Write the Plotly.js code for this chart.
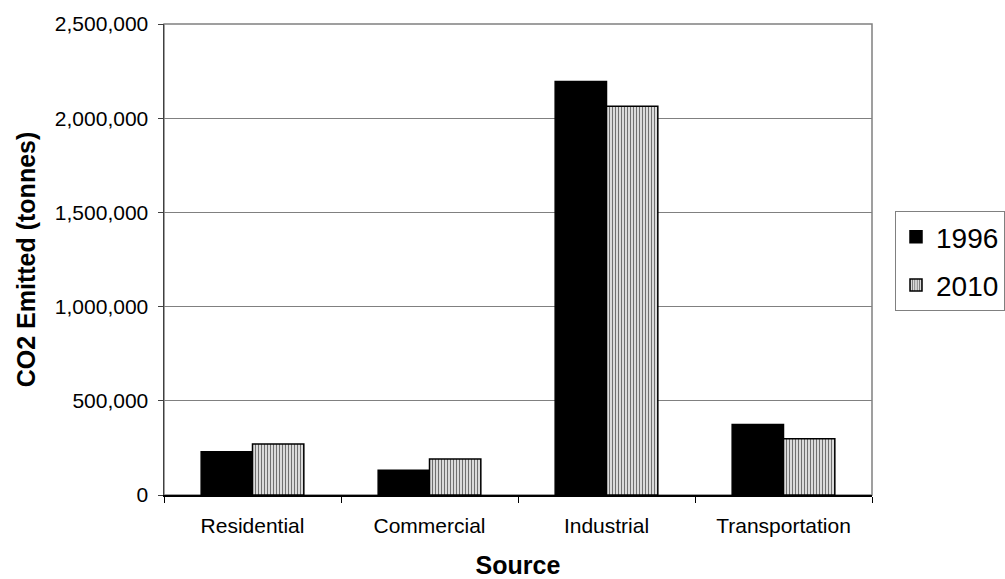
<!DOCTYPE html>
<html>
<head>
<meta charset="utf-8">
<script src="https://cdn.plot.ly/plotly-3.0.1.min.js"></script>
<style>
  html, body { margin: 0; padding: 0; background: #fff; }
  #chart { width: 1005px; height: 579px; }
</style>
</head>
<body>
<div id="chart"></div>
<script>
// CO2 emissions by source sector, 1996 vs 2010 (tonnes)
const sources = ['Residential', 'Commercial', 'Industrial', 'Transportation'];
const emissions1996 = [229000, 131000, 2195000, 374000];
const emissions2010 = [271000, 191000, 2064000, 298000];
const yTickValues = [0, 500000, 1000000, 1500000, 2000000, 2500000];

const font = 'Arial, "Liberation Sans", sans-serif';

const traces = [
  {
    type: 'bar',
    name: '1996',
    x: sources,
    y: emissions1996,
    legendgroup: 'a',
    marker: { color: '#000000', line: { color: '#000000', width: 1.5 } },
    hoverinfo: 'x+y'
  },
  {
    type: 'bar',
    name: '2010',
    x: sources,
    y: emissions2010,
    legendgroup: 'b',
    marker: {
      color: '#ffffff',
      line: { color: '#000000', width: 1.5 },
      pattern: { shape: '|', size: 3, solidity: 0.5, fgcolor: '#707070', bgcolor: '#ffffff' }
    },
    hoverinfo: 'x+y'
  }
];

const W = 1005, H = 579;
const plotL = 164, plotR = 872, plotT = 24, plotB = 495;

const layout = {
  width: W,
  height: H,
  paper_bgcolor: '#ffffff',
  plot_bgcolor: '#ffffff',
  margin: { l: plotL, r: W - plotR, t: plotT, b: H - plotB, pad: 0, autoexpand: false },
  font: { family: font, color: '#000000', size: 21 },
  barmode: 'group',
  bargap: 0.42,
  bargroupgap: 0,
  showlegend: true,
  legend: {
    x: (895 - plotL) / (plotR - plotL),
    xanchor: 'left',
    y: (plotB - 211) / (plotB - plotT),
    yanchor: 'top',
    bordercolor: '#808080',
    borderwidth: 1,
    bgcolor: '#ffffff',
    font: { family: font, size: 28, color: '#000000' },
    traceorder: 'grouped',
    tracegroupgap: 9
  },
  xaxis: {
    type: 'category',
    automargin: false,
    showline: true,
    linecolor: '#000000',
    linewidth: 1.5,
    ticks: 'outside',
    tickson: 'boundaries',
    ticklen: 6,
    tickcolor: '#000000',
    ticklabelstandoff: 11,
    tickfont: { family: font, size: 21, color: '#000000' },
    showgrid: false,
    zeroline: false,
    title: { text: '<b>Source</b>', font: { family: font, size: 25, color: '#000000' }, standoff: 31 }
  },
  yaxis: {
    automargin: false,
    range: [0, 2500000],
    tickvals: yTickValues,
    tickformat: ',d',
    showline: true,
    linecolor: '#404040',
    linewidth: 1.5,
    ticks: 'outside',
    ticklen: 5,
    tickcolor: '#404040',
    ticklabelstandoff: 5,
    tickfont: { family: font, size: 21, color: '#000000' },
    showgrid: true,
    gridcolor: '#808080',
    gridwidth: 1,
    zeroline: false,
    title: { text: '<b>CO2 Emitted (tonnes)</b>', font: { family: font, size: 25, color: '#000000' }, standoff: 12 }
  },
  shapes: [
    {
      type: 'rect', xref: 'paper', yref: 'paper', x0: 0, x1: 1, y0: 0, y1: 1,
      line: { color: '#808080', width: 1.5 }, layer: 'below'
    }
  ]
};

Plotly.newPlot('chart', traces, layout, { displayModeBar: false, staticPlot: true });
</script>
</body>
</html>
